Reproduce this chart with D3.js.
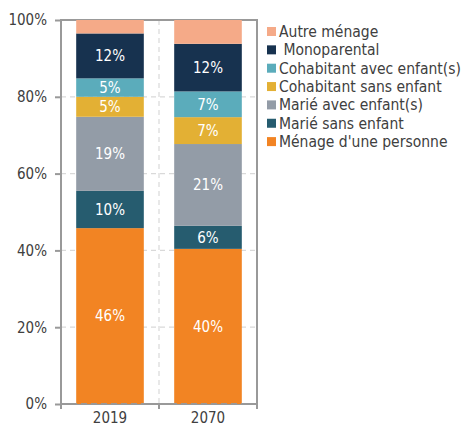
<!DOCTYPE html>
<html>
<head>
<meta charset="utf-8">
<script src="https://cdn.jsdelivr.net/npm/d3@7"></script>
<style>
  body { margin: 0; background: #fff; }
  text { font-family: "DejaVu Sans Condensed", "DejaVu Sans", sans-serif; }
</style>
</head>
<body>
<div class="d3-canvas"></div>
<script>
const WIDTH = 467;
const HEIGHT = 426;

const margin = {top: 20, right: 210, bottom: 22, left: 61};
const chartWidth = WIDTH - margin.left - margin.right;
const chartHeight = HEIGHT - margin.top - margin.bottom;

// Data (stack order, bottom to top)
const years = ['2019', '2070'];
const seriesNames = [
    "Ménage d'une personne",
    'Marié sans enfant',
    'Marié avec enfant(s)',
    'Cohabitant sans enfant',
    'Cohabitant avec enfant(s)',
    'Monoparental',
    'Autre ménage'
];
const values2019 = [45.8, 9.7, 19.3, 5.2, 4.8, 11.7, 3.5];
const values2070 = [40.4, 6.0, 21.3, 7.0, 6.7, 12.4, 6.2];
const colors = ['#F28423', '#265C6F', '#939CA7', '#E3B034', '#5BACBB', '#17324F', '#F5AA88'];
const yTicks = [0, 20, 40, 60, 80, 100];
// legend shows a leading space before Monoparental
const legendLabels = {'Monoparental': ' Monoparental'};

const table = years.map((year, i) => {
    const vals = i === 0 ? values2019 : values2070;
    const row = {year};
    seriesNames.forEach((s, j) => row[s] = vals[j]);
    return row;
});
const stacked = d3.stack().keys(seriesNames)(table);

const svg = d3.select('.d3-canvas')
    .append('svg')
        .attr('width', WIDTH)
        .attr('height', HEIGHT);

const chart = svg.append('g')
    .attr('transform', `translate(${margin.left}, ${margin.top})`);

const x = d3.scaleBand()
    .domain(years)
    .range([0, chartWidth])
    .padding(0);
const barWidth = x.bandwidth() * 0.69;
const y = d3.scaleLinear()
    .domain([0, 100])
    .range([chartHeight, 0]);
const color = d3.scaleOrdinal().domain(seriesNames).range(colors);

// Horizontal gridlines.
chart.append('g')
    .selectAll('line')
    .data(yTicks.filter(d => d > 0 && d < 100))
    .enter().append('line')
        .attr('x1', 0)
        .attr('x2', chartWidth)
        .attr('y1', d => y(d))
        .attr('y2', d => y(d))
        .attr('stroke', '#d9d9d9')
        .attr('stroke-width', 1.2)
        .attr('stroke-dasharray', '5,4');

// Vertical separator between the two years.
chart.append('line')
    .attr('x1', x(years[1]))
    .attr('x2', x(years[1]))
    .attr('y1', 0)
    .attr('y2', chartHeight)
    .attr('stroke', '#d9d9d9')
    .attr('stroke-width', 1.2)
    .attr('stroke-dasharray', '5,4');

// Plot frame.
chart.append('rect')
    .attr('x', 0)
    .attr('y', 0)
    .attr('width', chartWidth)
    .attr('height', chartHeight)
    .attr('fill', 'none')
    .attr('stroke', '#999')
    .attr('stroke-width', 2);

// Bars.
const layers = chart.selectAll('.layer')
    .data(stacked)
    .enter().append('g')
        .attr('class', 'layer')
        .attr('fill', d => color(d.key));

layers.selectAll('rect')
    .data(d => d)
    .enter().append('rect')
        .attr('x', d => x(d.data.year) + (x.bandwidth() - barWidth) / 2)
        .attr('width', barWidth)
        .attr('y', d => y(d[1]))
        .attr('height', d => y(d[0]) - y(d[1]));

// Segment labels.
layers.filter(d => d.key !== 'Autre ménage')
    .selectAll('text')
    .data(d => d)
    .enter().append('text')
        .attr('x', d => x(d.data.year) + x.bandwidth() / 2)
        .attr('y', d => (y(d[0]) + y(d[1])) / 2)
        .attr('dy', '0.36em')
        .attr('text-anchor', 'middle')
        .attr('fill', '#fff')
        .attr('font-size', 15)
        .text(d => Math.round(d[1] - d[0]) + '%');

// Dashed baseline over the bars.
chart.append('line')
    .attr('x1', 0)
    .attr('x2', chartWidth)
    .attr('y1', y(0))
    .attr('y2', y(0))
    .attr('stroke', '#999')
    .attr('stroke-width', 2)
    .attr('stroke-dasharray', '6,4');

// Axes.
const yAxis = d3.axisLeft(y)
    .tickValues(yTicks)
    .tickSize(6)
    .tickPadding(8)
    .tickFormat(d => `${d}%`);
const yAxisGroup = chart.append('g').call(yAxis);
yAxisGroup.select('.domain').remove();

const xAxis = d3.axisBottom(x)
    .tickSize(0)
    .tickPadding(8);
const xAxisGroup = chart.append('g')
    .attr('transform', `translate(0, ${chartHeight})`)
    .call(xAxis);
xAxisGroup.select('.domain').remove();

// Tick marks at band boundaries.
xAxisGroup.selectAll('.bound')
    .data([...years.map(d => x(d)), chartWidth])
    .enter().append('line')
        .attr('class', 'bound')
        .attr('x1', d => d)
        .attr('x2', d => d)
        .attr('y1', 0)
        .attr('y2', 5)
        .attr('stroke', '#999')
        .attr('stroke-width', 2);

[yAxisGroup, xAxisGroup].forEach(g => {
    g.selectAll('.tick line').attr('stroke', '#999').attr('stroke-width', 2);
    g.selectAll('text')
        .attr('fill', '#404040')
        .attr('font-size', 15)
        .style('font-family', '"DejaVu Sans Condensed", "DejaVu Sans", sans-serif');
});

// Legend.
const legend = svg.append('g')
    .attr('transform', 'translate(267, 31.5)');
const legendItems = legend.selectAll('g')
    .data(seriesNames.slice().reverse())
    .enter().append('g')
        .attr('transform', (d, i) => `translate(0, ${i * 18.35})`);
legendItems.append('rect')
    .attr('x', 0)
    .attr('y', -4.5)
    .attr('width', 9)
    .attr('height', 9)
    .attr('fill', d => color(d));
legendItems.append('text')
    .attr('x', 12)
    .attr('dy', '0.36em')
    .attr('fill', '#404040')
    .attr('font-size', 15.5)
    .attr('xml:space', 'preserve')
    .style('white-space', 'pre')
    .text(d => legendLabels[d] || d);
</script>
</body>
</html>
